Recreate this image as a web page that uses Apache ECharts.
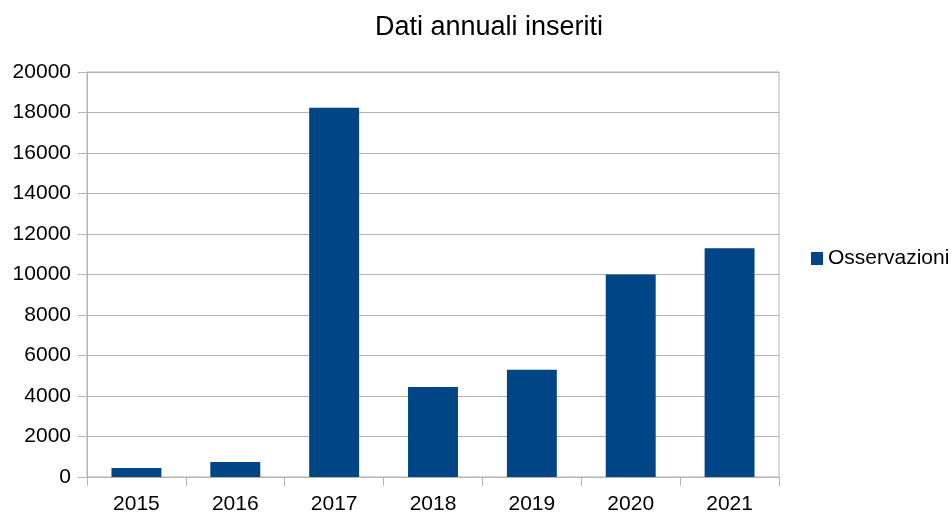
<!DOCTYPE html>
<html><head><meta charset="utf-8">
<script src="https://cdn.jsdelivr.net/npm/echarts@6/dist/echarts.min.js"></script>
<style>html,body{margin:0;padding:0;background:#fff}#c{width:952px;height:515px}</style>
</head><body><div id="c"></div>
<script>
const categories = ['2015','2016','2017','2018','2019','2020','2021'];
const observations = [450, 740, 18230, 4450, 5300, 10000, 11300];
const yTicks = [0,2000,4000,6000,8000,10000,12000,14000,16000,18000,20000];
const font = 'Liberation Sans';
const chart = echarts.init(document.getElementById('c'));
chart.setOption({
  animation: false,
  title: {text: 'Dati annuali inseriti', left: 484, top: 9, textAlign: 'center',
    textStyle: {fontFamily: font, fontSize: 27, fontWeight: 'normal', color: '#000'}},
  legend: {orient: 'vertical', left: 806, top: 243, itemWidth: 12, itemHeight: 13, itemGap: 6,
    icon: 'rect', textStyle: {fontFamily: font, fontSize: 21, color: '#000'}, data: ['Osservazioni']},
  grid: {left: 87, top: 72, width: 692, height: 406.5, show: true, borderColor: '#b3b3b3', borderWidth: 1, backgroundColor: 'transparent'},
  xAxis: {type: 'category', data: categories,
    axisLine: {lineStyle: {color: '#b3b3b3'}},
    axisTick: {show: true, length: 9, lineStyle: {color: '#b3b3b3'}},
    axisLabel: {fontFamily: font, fontSize: 21, color: '#000', margin: 17},
    splitLine: {show: false}},
  yAxis: {type: 'value', min: yTicks[0], max: yTicks[yTicks.length-1], interval: 2000,
    axisLine: {show: true, lineStyle: {color: '#b3b3b3'}},
    axisTick: {show: true, length: 9, lineStyle: {color: '#b3b3b3'}},
    axisLabel: {fontFamily: font, fontSize: 21, color: '#000', margin: 16, formatter: v => String(v)},
    splitLine: {show: true, lineStyle: {color: '#b3b3b3'}}},
  series: [{name: 'Osservazioni', type: 'bar', data: observations, barWidth: '50.5%',
    itemStyle: {color: '#004586'}}]
});
</script></body></html>
